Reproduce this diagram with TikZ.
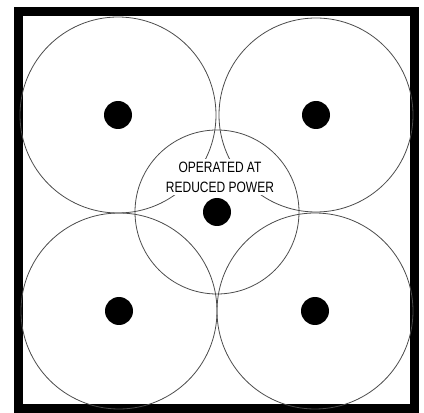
\documentclass[tikz,border=0pt]{standalone}
\usepackage{fontspec}
\newfontfamily\notefont[FakeStretch=0.8]{Liberation Sans}
\usepackage{tikz}
\tikzset{
  cell/.style={circle, draw=black!70, line width=0.8pt, inner sep=0pt},
  site/.style={circle, fill=black, inner sep=0pt, minimum size=28pt},
  note/.style={align=center, font=\notefont\fontsize{15}{20}\selectfont,
               fill=white, inner sep=2.5pt},
}

\begin{document}
\begin{tikzpicture}[x=1pt, y=1pt]
    \useasboundingbox (0,0) rectangle (424,413);
    \draw[line width=9pt] (18,4) rectangle (414,401);

    % --- coverage cells --------------------------------------------------
    \node[cell, minimum size=196pt] (tl) at (118,298) {};
    \node[cell, minimum size=194pt] (tr) at (316,298) {};
    \node[cell, minimum size=196pt] (bl) at (119,102) {};
    \node[cell, minimum size=196pt] (br) at (315,102) {};
    \node[cell, minimum size=164pt] (mid) at (217,201) {};

    % --- label masks the crossing arcs ---------------------------------
    \node[note] (label) at (220,236) {OPERATED AT\\REDUCED POWER};

    % --- transmitter sites -----------------------------------------------
    \node[site] (s-tl) at (tl) {};
    \node[site] (s-tr) at (tr) {};
    \node[site] (s-bl) at (bl) {};
    \node[site] (s-br) at (br) {};
    \node[site] (s-mid) at (mid) {};
\end{tikzpicture}
\end{document}
